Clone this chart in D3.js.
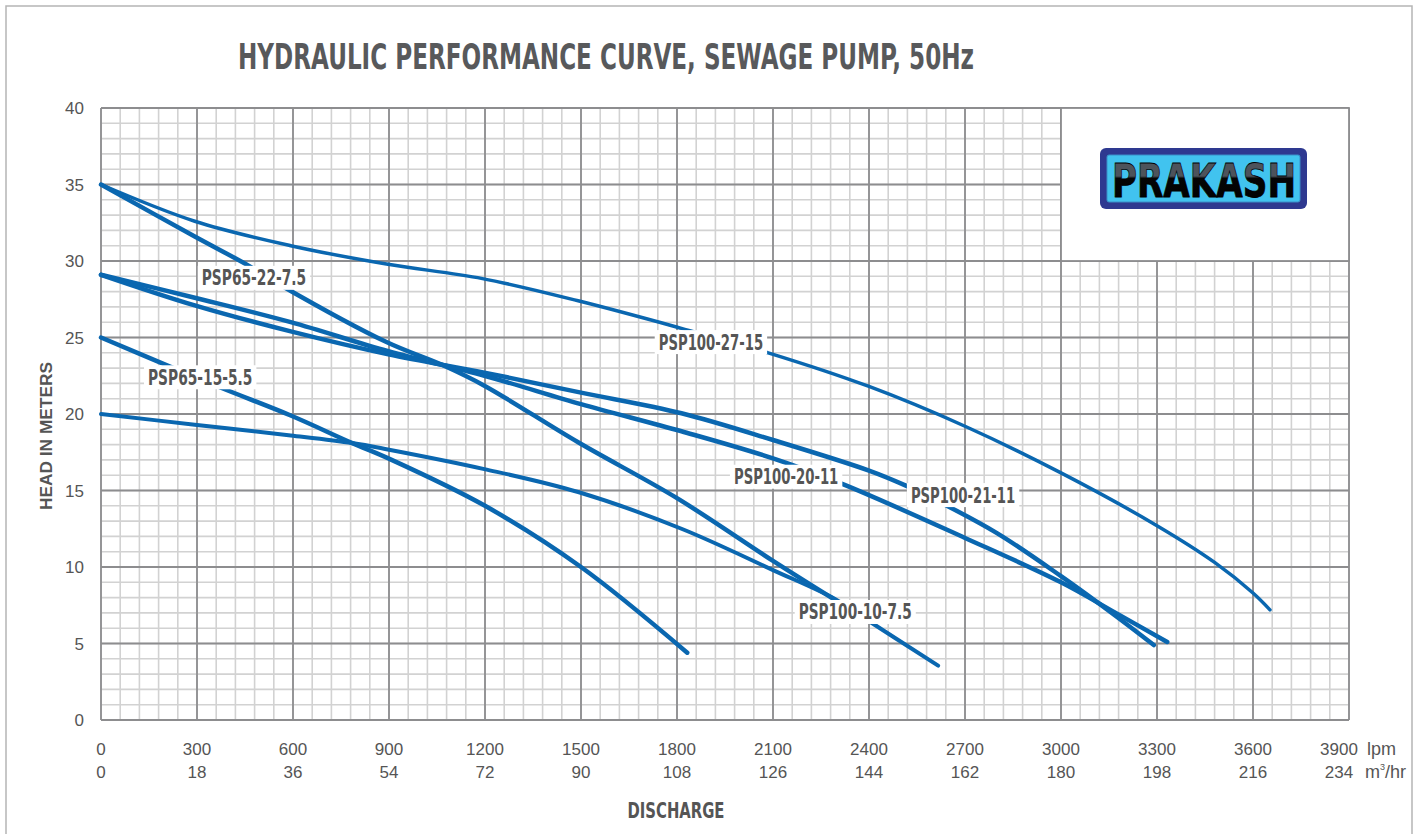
<!DOCTYPE html>
<html>
<head>
<style>
  body { margin: 0; background: #fff; }
  svg { display: block; }
</style>
</head>
<body>
<svg width="1416" height="834"></svg>
<script src="https://d3js.org/d3.v7.min.js"></script>
<script>
// ---- data: [flow lpm, head m] ----
var psp100_27_15 = [[0,35],[293,32.6],[593,31.0],[892,29.8],[1192,28.85],[1491,27.4],[1814,25.6],[2085,24.0],[2400,21.8],[2700,19.2],[3000,16.15],[3300,12.7],[3480,10.3],[3600,8.3],[3653,7.2]];
var psp65_22_75  = [[0,35],[293,31.6],[461,29.7],[563,28.4],[892,24.7],[1072,23.15],[1198,21.85],[1491,18.15],[1800,14.5],[2100,10.4],[2290,7.9]];
var psp100_20_11 = [[0,29.1],[293,27.6],[593,26.0],[898,24.1],[1198,22.5],[1500,20.65],[1814,18.87],[2100,17.1],[2320,15.4],[2700,11.9],[3000,9.0],[3171,7.0],[3332,5.1]];
var psp100_21_11 = [[0,29.1],[293,27.1],[593,25.4],[898,23.9],[1198,22.7],[1500,21.4],[1814,20.05],[2100,18.3],[2400,16.3],[2517,15.3],[2616,14.3],[2801,12.2],[3000,9.4],[3171,6.8],[3290,4.9]];
var psp65_15_55  = [[0,25],[210,23.15],[377,21.7],[593,19.9],[785,18.1],[898,17.1],[1200,14.0],[1500,10.0],[1832,4.4]];
var psp100_10_75 = [[0,20],[293,19.3],[593,18.6],[785,18.1],[892,17.7],[1198,16.4],[1491,14.9],[1814,12.5],[2100,9.8],[2295,7.9],[2375,6.8],[2616,3.55]];

var series = [psp100_27_15, psp65_22_75, psp100_20_11, psp100_21_11, psp65_15_55, psp100_10_75];
var seriesWidth = [3.5, 4.5, 4.5, 4.5, 4.5, 4];

// label name + anchor point in data units
var labelNames = ["PSP65-22-7.5", "PSP65-15-5.5", "PSP100-27-15", "PSP100-20-11", "PSP100-21-11", "PSP100-10-7.5"];
var labelAt    = [[478,28.9], [310,22.4], [1906,24.7], [2141,15.9], [2694,14.7], [2357,7.06]];

var lpmTicks  = [0,300,600,900,1200,1500,1800,2100,2400,2700,3000,3300,3600,3900];
var m3hrTicks = [0,18,36,54,72,90,108,126,144,162,180,198,216,234];
var headTicks = [0,5,10,15,20,25,30,35,40];

var svg = d3.select("svg");
var grey = "#555";
var cond = "'Liberation Sans Narrow','DejaVu Sans Condensed','Roboto',sans-serif";

var x = d3.scaleLinear().domain([0, 3900]).range([101, 1349]);
var y = d3.scaleLinear().domain([0, 40]).range([720, 108]);

// page frame
svg.append("rect").attr("x", 6).attr("y", 6).attr("width", 1406).attr("height", 850)
   .attr("fill", "none").attr("stroke", "#b5b5b5").attr("stroke-width", 1.5);

// title
svg.append("text").attr("x", 238).attr("y", 69)
   .attr("font-family", cond).attr("font-weight", "bold").attr("font-size", 35)
   .attr("fill", "#58595b").attr("textLength", 736).attr("lengthAdjust", "spacingAndGlyphs")
   .text("HYDRAULIC PERFORMANCE CURVE, SEWAGE PUMP, 50Hz");

// grid
var g = svg.append("g");
g.selectAll(".vmin").data(d3.range(0, 3901, 60)).enter().append("line")
  .attr("x1", d => x(d)).attr("x2", d => x(d)).attr("y1", y(0)).attr("y2", y(40))
  .attr("stroke", "#d2d2d2").attr("stroke-width", 1.6);
g.selectAll(".hmin").data(d3.range(0, 41, 1)).enter().append("line")
  .attr("y1", d => y(d)).attr("y2", d => y(d)).attr("x1", x(0)).attr("x2", x(3900))
  .attr("stroke", "#d2d2d2").attr("stroke-width", 1.6);
g.selectAll(".vmaj").data(lpmTicks).enter().append("line")
  .attr("x1", d => x(d)).attr("x2", d => x(d)).attr("y1", y(0)).attr("y2", y(40))
  .attr("stroke", "#8d8d8f").attr("stroke-width", 1.8);
g.selectAll(".hmaj").data(headTicks).enter().append("line")
  .attr("y1", d => y(d)).attr("y2", d => y(d)).attr("x1", x(0)).attr("x2", x(3900))
  .attr("stroke", "#8d8d8f").attr("stroke-width", 1.8);

// logo box
svg.append("rect").attr("x", x(3000)).attr("y", y(40))
   .attr("width", x(3900) - x(3000)).attr("height", y(30) - y(40))
   .attr("fill", "#fff").attr("stroke", "#8d8d8f").attr("stroke-width", 1.8);

var defs = svg.append("defs");
var grad = defs.append("linearGradient").attr("id", "gloss").attr("x1", 0).attr("y1", 0).attr("x2", 0).attr("y2", 1);
grad.append("stop").attr("offset", "0").attr("stop-color", "#4d535b");
grad.append("stop").attr("offset", "0.42").attr("stop-color", "#4d535b");
grad.append("stop").attr("offset", "0.46").attr("stop-color", "#050505");
grad.append("stop").attr("offset", "1").attr("stop-color", "#000");

svg.append("rect").attr("x", 1100).attr("y", 148).attr("width", 207).attr("height", 61).attr("rx", 6)
   .attr("fill", "#2e3990");
svg.append("rect").attr("x", 1107).attr("y", 155).attr("width", 193).attr("height", 47).attr("rx", 2)
   .attr("fill", "#41c3ef").attr("stroke", "#3a8fc8").attr("stroke-width", 1);
svg.append("text").attr("x", 1112).attr("y", 197)
   .attr("font-family", "'DejaVu Sans',sans-serif").attr("font-weight", "bold").attr("font-size", 47)
   .attr("fill", "url(#gloss)").attr("stroke", "#000").attr("stroke-width", 0.8)
   .attr("textLength", 184).attr("lengthAdjust", "spacingAndGlyphs")
   .text("PRAKASH");

// curves
var line = d3.line().x(d => x(d[0])).y(d => y(d[1])).curve(d3.curveCatmullRom.alpha(0.5));
svg.append("g").selectAll("path").data(series).enter().append("path")
   .attr("d", line).attr("fill", "none").attr("stroke", "#0a67b0")
   .attr("stroke-width", (d, i) => seriesWidth[i])
   .attr("stroke-linecap", "round").attr("stroke-linejoin", "round");

// curve labels
var lab = svg.append("g").selectAll("g").data(labelNames).enter().append("g")
   .attr("transform", (d, i) => "translate(" + x(labelAt[i][0]) + "," + y(labelAt[i][1]) + ")");
lab.append("rect")
   .attr("x", d => -(d.length * 8.7) / 2 - 4).attr("y", -12)
   .attr("width", d => d.length * 8.7 + 8).attr("height", 24)
   .attr("fill", "#fff");
lab.append("text").attr("text-anchor", "middle").attr("y", 7.5)
   .attr("font-family", cond).attr("font-weight", "bold").attr("font-size", 21)
   .attr("fill", grey).attr("textLength", d => d.length * 8.7).attr("lengthAdjust", "spacingAndGlyphs")
   .text(d => d);

// y axis labels
svg.append("g").selectAll("text").data(headTicks).enter().append("text")
   .attr("x", 84).attr("y", d => y(d) + 6).attr("text-anchor", "end")
   .attr("font-family", "'Liberation Sans',Arial,sans-serif").attr("font-size", 17).attr("fill", grey)
   .text(d => d);

// x axis labels (two rows)
svg.append("g").selectAll("text").data(lpmTicks).enter().append("text")
   .attr("x", (d, i) => x(d) - (i === lpmTicks.length - 1 ? 10 : 0)).attr("y", 755).attr("text-anchor", "middle")
   .attr("font-family", "'Liberation Sans',Arial,sans-serif").attr("font-size", 17).attr("fill", grey)
   .text(d => d);
svg.append("g").selectAll("text").data(m3hrTicks).enter().append("text")
   .attr("x", (d, i) => x(lpmTicks[i]) - (i === m3hrTicks.length - 1 ? 10 : 0)).attr("y", 778).attr("text-anchor", "middle")
   .attr("font-family", "'Liberation Sans',Arial,sans-serif").attr("font-size", 17).attr("fill", grey)
   .text(d => d);

svg.append("text").attr("x", 1367).attr("y", 755)
   .attr("font-family", "'Liberation Sans',Arial,sans-serif").attr("font-size", 18).attr("fill", grey)
   .text("lpm");
var unit = svg.append("text").attr("x", 1365).attr("y", 778)
   .attr("font-family", "'Liberation Sans',Arial,sans-serif").attr("font-size", 18).attr("fill", grey);
unit.append("tspan").text("m");
unit.append("tspan").attr("font-size", 9).attr("dy", -8).text("3");
unit.append("tspan").attr("dy", 8).text("/hr");

// axis titles
svg.append("text").attr("x", 676).attr("y", 818).attr("text-anchor", "middle")
   .attr("font-family", cond).attr("font-weight", "bold").attr("font-size", 22)
   .attr("fill", grey).attr("textLength", 97).attr("lengthAdjust", "spacingAndGlyphs")
   .text("DISCHARGE");
svg.append("text").attr("transform", "translate(52,436) rotate(-90)").attr("text-anchor", "middle")
   .attr("font-family", "'Liberation Sans',Arial,sans-serif").attr("font-weight", "bold").attr("font-size", 17)
   .attr("fill", grey).attr("textLength", 148).attr("lengthAdjust", "spacingAndGlyphs")
   .text("HEAD IN METERS");
</script>
</body>
</html>
